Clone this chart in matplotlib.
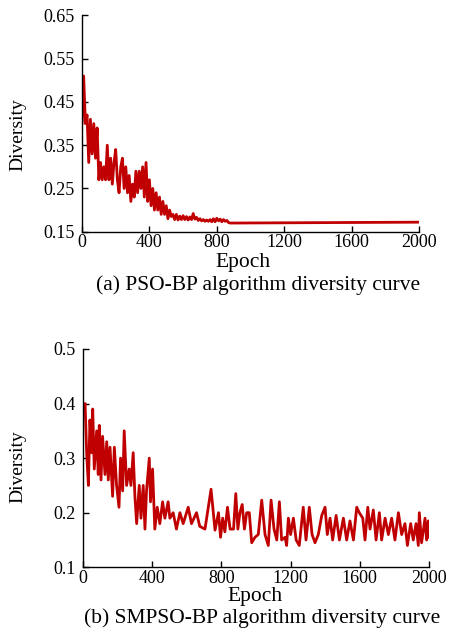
import matplotlib
matplotlib.use('agg')
import matplotlib.pyplot as plt

plt.rcParams['font.family'] = ['Liberation Serif', 'DejaVu Serif']
plt.rcParams['font.size'] = 13

# ---- (a) PSO-BP diversity ----
pso_epoch = [0, 10, 20, 30, 40, 50, 60, 70, 80, 90,
             100, 110, 120, 130, 140, 150, 160, 170, 180, 190,
             200, 210, 220, 230, 240, 250, 260, 270, 280, 290,
             300, 310, 320, 330, 340, 350, 360, 370, 380, 390,
             400, 410, 420, 430, 440, 450, 460, 470, 480, 490,
             500, 510, 520, 530, 540, 550, 560, 570, 580, 590,
             600, 610, 620, 630, 640, 650, 660, 670, 680, 690,
             700, 710, 720, 730, 740, 750, 760, 770, 780, 790,
             800, 810, 820, 830, 840, 850, 860, 870, 880, 900, 2000]
pso_div = [0.40, 0.51, 0.40, 0.42, 0.31, 0.41, 0.33, 0.40, 0.32, 0.39,
           0.27, 0.31, 0.27, 0.30, 0.27, 0.35, 0.27, 0.32, 0.26, 0.31,
           0.34, 0.27, 0.24, 0.30, 0.32, 0.25, 0.30, 0.24, 0.28, 0.22,
           0.26, 0.23, 0.29, 0.24, 0.29, 0.25, 0.30, 0.23, 0.31, 0.22,
           0.27, 0.21, 0.25, 0.20, 0.24, 0.20, 0.23, 0.19, 0.22, 0.19,
           0.21, 0.18, 0.20, 0.185, 0.19, 0.178, 0.19, 0.177, 0.186, 0.178,
           0.187, 0.178, 0.185, 0.177, 0.184, 0.178, 0.192, 0.179, 0.183, 0.176,
           0.180, 0.175, 0.178, 0.174, 0.177, 0.174, 0.178, 0.173, 0.180, 0.173,
           0.181, 0.175, 0.179, 0.173, 0.178, 0.174, 0.176, 0.171, 0.170, 0.170, 0.172]

# ---- (b) SMPSO-BP diversity ----
smpso_epoch = [0, 12, 21, 31, 40, 50, 56, 65, 79, 88,
               94, 104, 113, 127, 137, 146, 156, 171, 181, 194,
               208, 217, 229, 238, 252, 267, 277, 290, 300, 310,
               325, 335, 348, 358, 367, 383, 390, 402, 415, 429,
               444, 460, 473, 492, 502, 521, 540, 560, 579, 608,
               627, 656, 675, 705, 740, 763, 783, 795, 807, 820,
               835, 850, 870, 883, 895, 907, 920, 933, 946, 961,
               975, 994, 1013, 1033, 1052, 1071, 1087, 1104, 1120, 1135,
               1148, 1168, 1177, 1187, 1200, 1216, 1232, 1250, 1273, 1289,
               1308, 1324, 1341, 1360, 1380, 1399, 1412, 1428, 1443, 1463,
               1482, 1505, 1524, 1543, 1563, 1582, 1597, 1617, 1630, 1646,
               1659, 1678, 1694, 1713, 1726, 1746, 1765, 1784, 1803, 1823,
               1842, 1861, 1875, 1894, 1909, 1925, 1938, 1944, 1957, 1977,
               1986, 1996, 2000]
smpso_div = [0.38, 0.40, 0.31, 0.25, 0.37, 0.31, 0.39, 0.28, 0.35, 0.27,
             0.36, 0.26, 0.34, 0.27, 0.33, 0.26, 0.32, 0.23, 0.32, 0.25,
             0.21, 0.30, 0.24, 0.35, 0.25, 0.28, 0.25, 0.31, 0.23, 0.18,
             0.25, 0.19, 0.25, 0.17, 0.24, 0.30, 0.22, 0.28, 0.17, 0.21,
             0.18, 0.22, 0.19, 0.22, 0.19, 0.20, 0.17, 0.20, 0.18, 0.21,
             0.18, 0.20, 0.175, 0.17, 0.243, 0.168, 0.20, 0.155, 0.19, 0.165,
             0.21, 0.17, 0.17, 0.235, 0.17, 0.20, 0.215, 0.17, 0.20, 0.20,
             0.145, 0.155, 0.16, 0.223, 0.16, 0.14, 0.223, 0.17, 0.15, 0.22,
             0.15, 0.155, 0.14, 0.19, 0.16, 0.19, 0.15, 0.14, 0.21, 0.15,
             0.21, 0.16, 0.145, 0.16, 0.195, 0.21, 0.16, 0.19, 0.15, 0.195,
             0.15, 0.19, 0.15, 0.185, 0.15, 0.21, 0.20, 0.19, 0.15, 0.21,
             0.17, 0.205, 0.15, 0.20, 0.15, 0.19, 0.16, 0.19, 0.15, 0.20,
             0.16, 0.18, 0.14, 0.18, 0.15, 0.18, 0.14, 0.20, 0.145, 0.19,
             0.15, 0.185, 0.155]

x_ticks = [0, 400, 800, 1200, 1600, 2000]
pso_yticks = [0.15, 0.25, 0.35, 0.45, 0.55, 0.65]
smpso_yticks = [0.1, 0.2, 0.3, 0.4, 0.5]

red = '#C00000'


def style_axes(ax):
    for side in ['top', 'right']:
        ax.spines[side].set_visible(False)
    for side in ['left', 'bottom']:
        ax.spines[side].set_linewidth(1.0)
    ax.tick_params(direction='in', length=4, width=1.0, labelsize=13)
    ax.tick_params(axis='y', pad=5)
    ax.tick_params(axis='x', pad=2)


fig = plt.figure(figsize=(4.49, 6.32), dpi=100)

# -- top panel
ax1 = fig.add_axes([0.1826, 0.6334, 0.7506, 0.3421])
ax1.plot(pso_epoch, pso_div, color=red, lw=2.0)
ax1.set_xlim(0, 2000)
ax1.set_ylim(0.15, 0.65)
ax1.set_xticks(x_ticks)
ax1.set_yticks(pso_yticks)
ax1.set_yticklabels(['%.2f' % v for v in pso_yticks])
style_axes(ax1)
ax1.set_xlabel('Epoch', fontsize=15.5)
ax1.set_ylabel('Diversity', fontsize=14)
ax1.xaxis.set_label_coords(0.478, -0.098)
ax1.yaxis.set_label_coords(-0.166, 0.447)

# -- bottom panel
ax2 = fig.add_axes([0.1849, 0.1024, 0.7706, 0.3454])
ax2.plot(smpso_epoch, smpso_div, color=red, lw=2.0)
ax2.set_xlim(0, 2000)
ax2.set_ylim(0.1, 0.5)
ax2.set_xticks(x_ticks)
ax2.set_yticks(smpso_yticks)
ax2.set_yticklabels(['%.1f' % v for v in smpso_yticks])
style_axes(ax2)
ax2.set_xlabel('Epoch', fontsize=15.5)
ax2.set_ylabel('Diversity', fontsize=14)
ax2.xaxis.set_label_coords(0.496, -0.092)
ax2.yaxis.set_label_coords(-0.165, 0.459)

# -- captions
fig.text(258 / 449, 1 - 285 / 632, '(a) PSO-BP algorithm diversity curve',
         ha='center', va='center', fontsize=15.5)
fig.text(262 / 449, 1 - 618 / 632, '(b) SMPSO-BP algorithm diversity curve',
         ha='center', va='center', fontsize=15.5)

fig.savefig('out.png', dpi=100, facecolor='white')
